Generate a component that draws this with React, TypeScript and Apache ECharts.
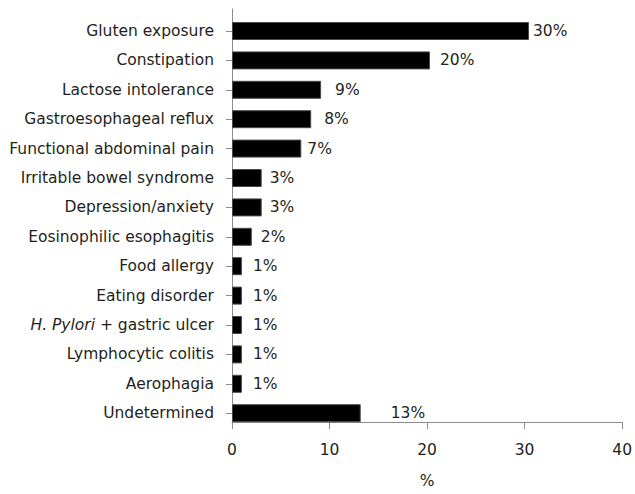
import React, { useEffect, useRef } from "react";
import * as echarts from "echarts";

const categories = [
  "Gluten exposure",
  "Constipation",
  "Lactose intolerance",
  "Gastroesophageal reflux",
  "Functional abdominal pain",
  "Irritable bowel syndrome",
  "Depression/anxiety",
  "Eosinophilic esophagitis",
  "Food allergy",
  "Eating disorder",
  "H. Pylori + gastric ulcer",
  "Lymphocytic colitis",
  "Aerophagia",
  "Undetermined",
];
const percentValues = [30, 20, 9, 8, 7, 3, 3, 2, 1, 1, 1, 1, 1, 13];
const xTicks = { min: 0, max: 40, interval: 10 };
const xAxisTitle = "%";

const FONT = "DejaVu Sans";
const FS = 15.5;
const TEXT = "#231f20";
const AXIS = "#8c8c8c";

export default function App() {
  const ref = useRef<HTMLDivElement>(null);
  useEffect(() => {
    if (!ref.current) return;
    const chart = echarts.init(ref.current, undefined, { renderer: "svg" });
    const labelGap = [4, 10, 14, 13, 6, 8, 8, 9, 11, 11, 11, 11, 11, 30];
    const data = percentValues.map((v, i) => ({
      value: v,
      label: { distance: labelGap[i] },
    }));
    chart.setOption({
      animation: false,
      backgroundColor: "#ffffff",
      textStyle: { fontFamily: FONT },
      grid: [
        { left: 232, right: 7, top: 16.3, height: 411.6, containLabel: false },
        { left: 232, right: 7, top: 9, height: 423, containLabel: false },
      ],
      xAxis: [
        {
          gridIndex: 0,
          type: "value",
          min: xTicks.min,
          max: xTicks.max,
          interval: xTicks.interval,
          show: false,
        },
        {
          gridIndex: 1,
          type: "value",
          min: xTicks.min,
          max: xTicks.max,
          interval: xTicks.interval,
          name: xAxisTitle,
          nameLocation: "middle",
          nameGap: 51,
          nameTextStyle: { fontFamily: FONT, fontSize: FS, color: TEXT },
          axisLine: { show: true, lineStyle: { color: AXIS, width: 1 } },
          axisTick: { show: true, length: 7, lineStyle: { color: AXIS } },
          axisLabel: { fontFamily: FONT, fontSize: FS, color: TEXT, margin: 20 },
          splitLine: { show: false },
        },
      ],
      yAxis: [
        {
          gridIndex: 0,
          type: "category",
          data: categories,
          inverse: true,
          axisLine: { show: false },
          axisTick: {
            show: true,
            alignWithLabel: true,
            length: 6,
            lineStyle: { color: AXIS },
          },
          axisLabel: {
            fontFamily: FONT,
            fontSize: FS,
            color: TEXT,
            margin: 18,
            formatter: (v: string) =>
              v.startsWith("H. Pylori")
                ? "{i|H. Pylori}" + v.slice("H. Pylori".length)
                : v,
            rich: {
              i: { fontStyle: "italic", fontFamily: FONT, fontSize: FS, color: TEXT },
            },
          },
        },
        {
          gridIndex: 1,
          type: "value",
          min: 0,
          max: 1,
          axisLine: { show: true, lineStyle: { color: AXIS, width: 1 } },
          axisTick: { show: false },
          axisLabel: { show: false },
          splitLine: { show: false },
        },
      ],
      series: [
        {
          type: "bar",
          xAxisIndex: 0,
          yAxisIndex: 0,
          data,
          barWidth: 18,
          itemStyle: { color: "#000000", borderColor: "#4a4a4a", borderWidth: 1 },
          label: {
            show: true,
            position: "right",
            formatter: (p: any) => p.value + "%",
            fontFamily: FONT,
            fontSize: FS,
            color: TEXT,
          },
        },
      ],
    });
    return () => chart.dispose();
  }, []);
  return (
    <div
      ref={ref}
      style={{ position: "fixed", left: 0, top: 0, width: 635, height: 494 }}
    />
  );
}
